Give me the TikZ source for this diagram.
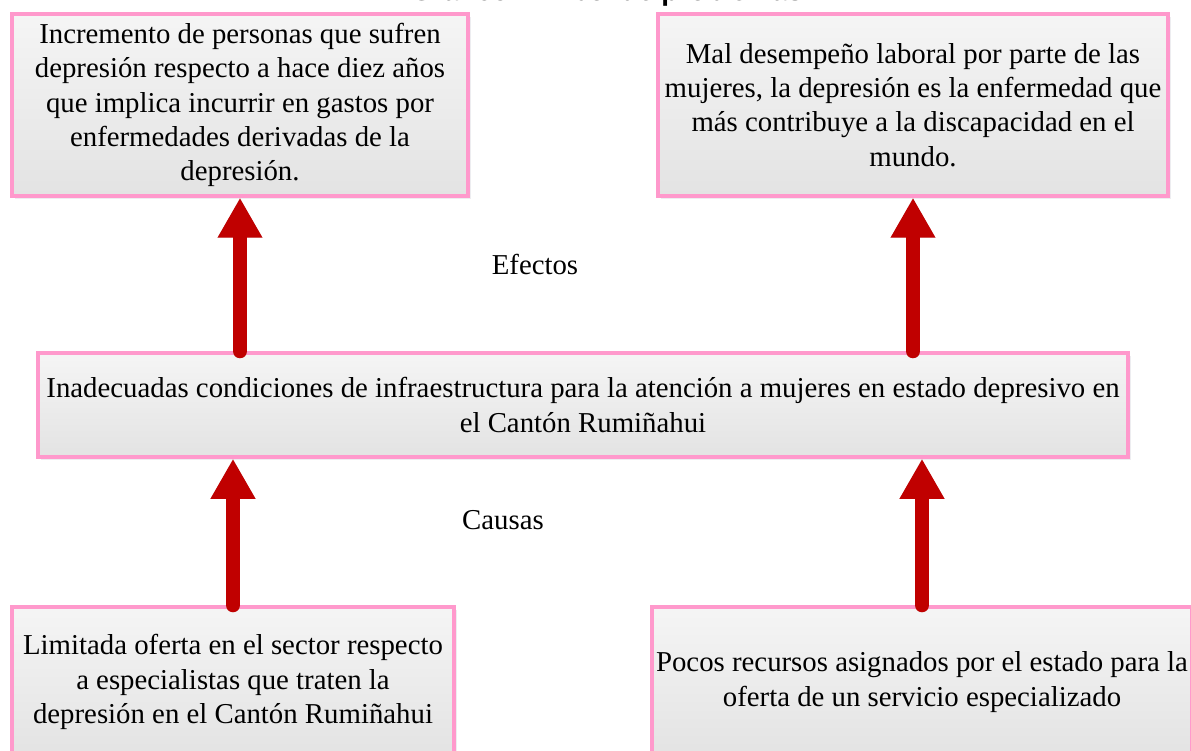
\documentclass[tikz,border=0pt]{standalone}
\usepackage{fontspec}
\setmainfont{Liberation Serif}
\newfontfamily\titlefont{Liberation Sans}
\usetikzlibrary{arrows.meta,shadows}

\definecolor{boxpink}{RGB}{255,153,204}
\definecolor{arrowred}{RGB}{192,0,0}

\tikzset{
  probbox/.style={draw=boxpink, line width=3.5pt, top color=gray!8, bottom color=gray!22,
    align=center, inner sep=4pt, font=\fontsize{28.8}{34.3}\selectfont,
    drop shadow={shadow xshift=3pt, shadow yshift=-3pt, fill=blue!10!gray!25}},
  uparrow/.style={draw=arrowred, line width=14pt, line cap=round,
    -{Triangle[width=42pt,length=40pt]}},
  uparrowshadow/.style={draw=gray!30, line width=14pt, line cap=round,
    -{Triangle[width=42pt,length=40pt]}, xshift=3pt, yshift=-3pt},
  tag/.style={font=\fontsize{28.8}{34.3}\selectfont}
}

\begin{document}
\begin{tikzpicture}[x=1pt,y=-1pt]
\clip (0,0) rectangle (1191,751);
\useasboundingbox (0,0) rectangle (1191,751);

% title, cut off by the top edge
\node[anchor=base, font=\titlefont\bfseries\fontsize{28}{34}\selectfont] (title) at (607,0.5) {Gráfico 1 Árbol de problemas};

% effects
\node[probbox, minimum width=456pt, minimum height=182pt] (eff1) at (240,105)
  {Incremento de personas que sufren\\depresión respecto a hace diez años\\que implica incurrir en gastos por\\enfermedades derivadas de la\\depresión.};
\node[probbox, minimum width=510pt, minimum height=182pt] (eff2) at (913,105)
  {Mal desempeño laboral por parte de las\\mujeres, la depresión es la enfermedad que\\más contribuye a la discapacidad en el\\mundo.};

% central problem
\node[probbox, minimum width=1090pt, minimum height=104pt] (prob) at (583,405)
  {Inadecuadas condiciones de infraestructura para la atención a mujeres en estado depresivo en\\el Cantón Rumiñahui};

% causes
\node[probbox, minimum width=442pt, minimum height=150pt] (cau1) at (233,682)
  {Limitada oferta en el sector respecto\\a especialistas que traten la\\depresión en el Cantón Rumiñahui};
\node[probbox, minimum width=540pt, minimum height=150pt] (cau2) at (922,682)
  {Pocos recursos asignados por el estado para la\\oferta de un servicio especializado};

\node[tag] (efectos) at (535,265) {Efectos};
\node[tag] (causas) at (503,520) {Causas};

% arrows
\draw[uparrowshadow] (eff1.south |- prob.north) -- (eff1.south);
\draw[uparrowshadow] (eff2.south |- prob.north) -- (eff2.south);
\draw[uparrowshadow] (cau1.north) -- (cau1.north |- prob.south);
\draw[uparrowshadow] (cau2.north) -- (cau2.north |- prob.south);
\draw[uparrow] (eff1.south |- prob.north) -- (eff1.south);
\draw[uparrow] (eff2.south |- prob.north) -- (eff2.south);
\draw[uparrow] (cau1.north) -- (cau1.north |- prob.south);
\draw[uparrow] (cau2.north) -- (cau2.north |- prob.south);
\end{tikzpicture}
\end{document}
